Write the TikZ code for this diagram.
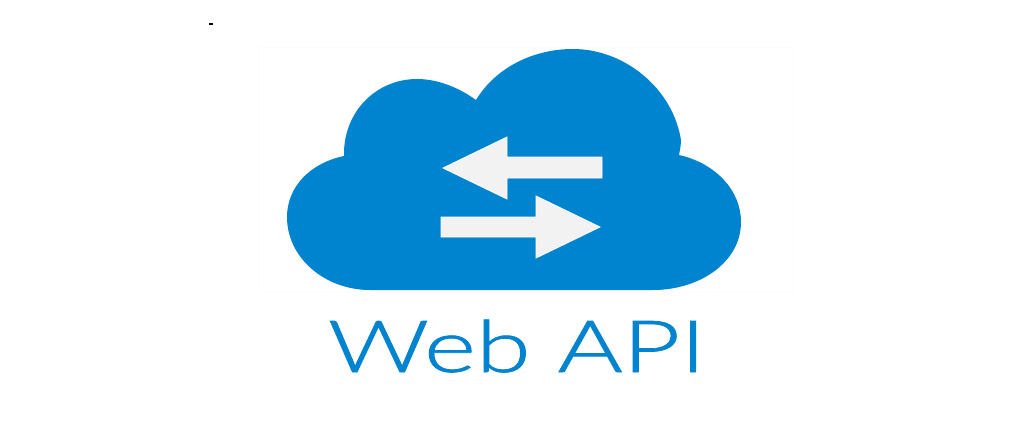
\documentclass[tikz,border=0pt]{standalone}
\usepackage{fontspec}
\newfontfamily\apifont{Lato Light}[RawFeature={embolden=1.0}]
\usepackage{tikz}
\definecolor{cloudblue}{HTML}{0084CF}
\definecolor{arrowgray}{HTML}{F2F2F2}
\definecolor{backwhite}{HTML}{FCFCFC}

\begin{document}
\begin{tikzpicture}[x=1pt,y=-1pt,line join=miter]
  \tikzstyle{every node}=[inner sep=0pt,outer sep=0pt]
  \tikzstyle{cloudshape}=[fill=cloudblue,draw=none]
  \tikzstyle{flowarrow}=[fill=arrowgray,draw=white,line width=0.8pt]
  \tikzstyle{apilabel}=[text=cloudblue,font=\apifont\fontsize{72}{72}\selectfont,anchor=base west,xscale=1.38]

  \useasboundingbox[fill=white] (0,0) rectangle (1021,432);
  \draw[backwhite,line width=0.8pt] (258,47) rectangle (793,292);
  \fill[black] (209,23) rectangle (213,25);

  \draw[cloudshape] (344,156) .. controls (343,112) and (376,79) .. (417,79)
    .. controls (437,79) and (458,87) .. (476,100)
    .. controls (496,67) and (534,49) .. (573,49)
    .. controls (625,49) and (673,89) .. (681,140)
    .. controls (681,145) and (680,150) .. (679,155)
    .. controls (715,163) and (741,190) .. (741,222)
    .. controls (741,262) and (700,290) .. (653,290)
    -- (370,290)
    .. controls (325,290) and (287,258) .. (287,217)
    .. controls (287,187) and (310,163) .. (344,156) -- cycle;

  \draw[flowarrow] (443,168) -- (507,137) -- (507,157) -- (602,157)
    -- (602,178) -- (507,178) -- (507,199) -- cycle;
  \draw[flowarrow] (600,227) -- (536,196) -- (536,217) -- (441,217)
    -- (441,237) -- (536,237) -- (536,258) -- cycle;

  \node[apilabel] (webapi) at (328,372) {Web API};
\end{tikzpicture}
\end{document}
